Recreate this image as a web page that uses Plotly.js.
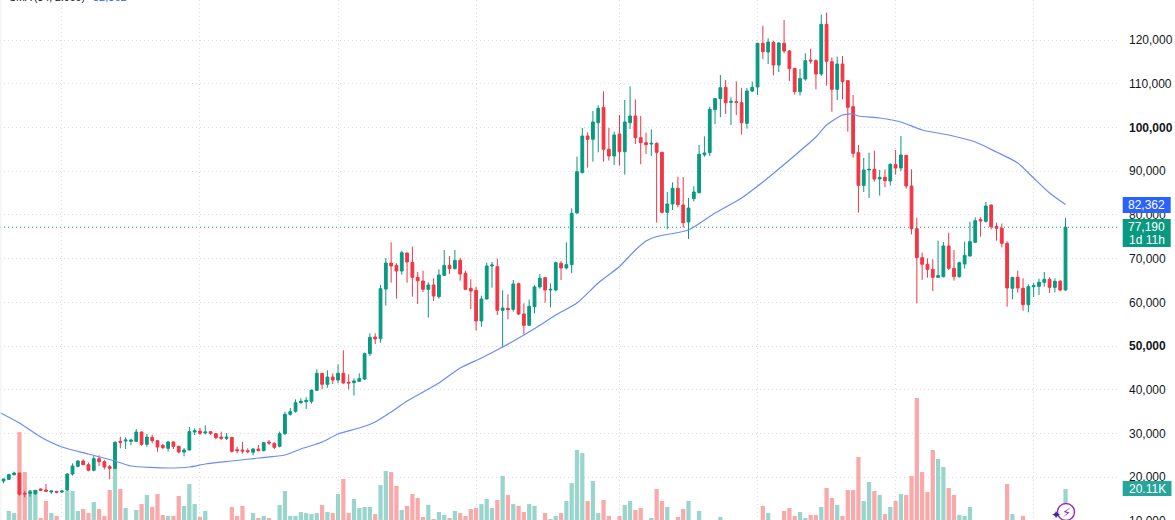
<!DOCTYPE html>
<html><head><meta charset="utf-8">
<script src="https://cdn.plot.ly/plotly-3.0.1.min.js"></script>
<style>html,body{margin:0;padding:0;background:#fff;overflow:hidden;width:1175px;height:520px}
#c{position:absolute;left:0;top:-20px;width:1175px;height:560px}</style></head><body><div id="c"></div>
<script>
const opens=[19145,19525,20593,20974,16324,16324,16248,17315,17083,16629,16781,16629,17083,20745,22498,23718,22879,21584,24252,23566,22422,22041,28216,28292,28216,28216,30350,27530,29130,28368,27301,26615,28063,27072,25776,26234,30350,30579,30121,30426,29969,29207,28902,29130,26310,26234,26081,25700,26462,26081,28063,27758,27072,29969,34390,35077,
37058,37288,37365,39880,43768,41252,42929,42243,43768,41710,41634,41938,42472,48266,52077,51696,63056,69000,68467,67171,71287,69153,65722,64884,62978,63969,61301,66180,68467,67704,69610,66637,63207,62749,55736,60767,68314,68162,58176,58633,58404,64274,57339,54745,59014,63512,65646,62825,62825,68924,67857,
68619,80436,89660,98046,97283,101095,104601,95000,93472,98503,94463,101095,102619,97665,96521,96216,96368,94310,80589,82495,86077,82266,78378,83714,85087,93777,94234,104068,106583,109175,105745,105897,105669,100942,108337,
109252,119238,117256,119467,114283,119238,117485,113521,108185,111081,115427,115274,112225,123583,115046,108718,114512,110700,104754,94233,86763,90269,90422,88211,88590,87754,91489,90727,93623,86610,76853,70221,68697,67553,65724,65876,72889,67782,65876,68773,70602,73727,78911,78530,82265,77386,76929,73499,63208,65724,63208,59472,63589,63666,64580,65265,63436,64808,62827];
const highs=[19678,20821,21279,21000,16857,17083,17083,17467,18458,17083,16857,17083,20898,23184,23870,24099,23337,25014,25014,23947,22803,28216,29283,29130,28826,31036,30426,29893,29740,28521,27606,28292,28216,27225,26691,31494,31189,31341,31875,30500,30121,30426,30121,29207,26996,28063,26615,26691,27377,28063,28521,27987,30426,35000,35839,37821,
38051,38280,40108,44683,43850,44452,43768,45827,49028,43539,42625,43768,48494,52916,52916,63969,70144,73727,68924,71821,71363,72735,66942,67247,64579,65494,67551,71973,70601,71973,70220,67247,65265,63588,61529,69076,69229,69991,62749,61835,65113,64503,59776,60615,63969,66484,65799,64350,69305,69458,73727,
81503,93319,99875,98884,103763,105059,108260,99875,99037,102848,106278,109404,106431,102619,98808,99570,96600,94463,85239,87450,88746,88669,83867,86534,95987,97969,104754,106700,111996,110852,106888,110547,109023,109023,110471,
119391,123278,120382,119848,119467,124574,117714,113600,113370,116951,118018,115579,125794,126251,116036,116189,116342,110800,107422,95987,93013,94233,94691,90269,90422,91794,94843,98045,93700,90422,79368,71365,70068,69840,74110,73802,75938,71974,69306,73880,78454,79445,79445,82952,82340,78225,78016,73957,65800,67248,65495,64123,64504,65418,66942,65724,65495,65114,79292];
const lows=[18611,19373,20364,15790,15409,15561,15943,16857,16629,16172,16324,16400,16857,20364,22270,22727,21355,21355,22575,21816,19525,21816,26615,26462,27301,28063,27225,26996,27758,25853,26386,25929,26462,25471,24785,26157,29664,29664,29817,29664,28673,28521,28521,25624,25471,25395,25471,25014,25929,25929,27377,26462,26843,29664,34085,34771,
36831,35611,36831,39800,40108,40490,41328,41481,41405,40108,38661,41786,42243,47732,50476,50781,59243,64503,60844,66332,64503,61301,59624,62368,56498,60310,60844,66100,66484,67551,64960,62900,58480,53525,54440,60691,63359,57108,49638,56118,57871,57108,52687,54593,57489,63131,59929,58862,62521,65113,67551,
66650,80300,89508,90804,92176,94310,92176,92405,91414,91261,89203,99646,96216,91566,93929,93472,78226,80284,76702,81123,81732,77082,74490,83104,84934,93319,93472,100790,102314,103077,100561,102848,98350,99723,108108,
107422,115655,114512,111920,112682,116951,110624,107499,107270,110700,114588,108718,111768,109557,103611,106279,106431,99037,93090,80512,85238,83866,87601,84404,86306,86687,89202,90041,85997,75557,59777,65114,65647,62597,65600,65724,67400,64961,65647,67705,70449,73650,75023,78225,76700,74110,72584,59015,60692,62216,58100,57719,61226,61683,63589,62140,62292,62521,62674];
const closes=[19602,20593,20974,16095,16172,16629,17009,17009,16781,16857,16553,16857,20745,22575,23718,22879,21584,24252,23566,22346,22041,27987,27987,28521,28521,30350,27530,29207,28368,26920,26767,28063,27072,25776,26234,30426,30655,30045,30350,30045,29054,28902,29207,25929,26081,26005,25853,26462,26081,27911,27834,26843,29969,34390,35000,37058,
37365,37593,39880,43768,41252,42929,42243,43768,41557,41557,42014,42548,48266,52001,51620,63131,69000,68314,67171,71363,69229,65722,64960,62978,63969,61453,66256,68467,67704,69610,66484,62978,62597,55736,60767,68314,68543,58176,58709,58328,64198,57339,54745,59090,63512,65494,62825,62978,69076,67857,68619,
80360,89889,98046,97283,101247,104373,95000,93472,98274,94463,101247,102619,97665,96521,96064,96368,94310,80589,82495,86077,82342,78226,81580,85239,93853,94158,104144,106583,109099,105669,105973,105745,101095,108337,109175,
119238,117332,119543,114283,119315,117485,113445,108185,111158,115274,115198,112225,123583,115122,108718,114512,110472,104601,94082,86763,90269,90422,88211,88590,87832,91565,90727,93700,86610,76853,70221,68697,67553,65724,66104,72889,67782,65876,69077,70754,73880,78682,78606,82037,77310,76929,73499,63284,65724,63284,59472,63589,63818,64580,65265,63436,64808,62827,77190];
const volumes=[4,9.3,8.3,48,28.4,19.6,19.6,5.9,14.2,8.3,6.9,4,19.1,19.1,9.3,10.3,8.3,13.7,10.3,6.9,19.6,30.4,20.1,10.8,4,9.8,12.7,17.2,11.3,17.6,7.4,6.9,6.9,16.7,11.8,22.5,12.7,6.4,9.3,4,3,3.5,4,11.3,6.9,11.8,4,8.3,5.9,6.9,5.9,4,12.3,19.1,6.9,6.9,
8.8,8.3,7.8,8.3,12.3,8.8,8.3,17.6,25,8.3,15.2,10.8,11.3,11.3,7.8,22,28.9,28.4,21.6,9.8,11.8,17.6,15.7,6.4,12.3,5.4,8.8,7.4,5.9,9.3,8.3,6.9,10.3,10.8,12.7,15.2,10.8,14.7,26.5,17.2,12.7,11.8,8.8,12.7,11.8,4,8.3,5.4,6.9,8.3,14.2,
23,39.2,37.7,14.2,24,8.3,14.7,6.9,4,6.9,12.3,14.2,9.8,10.8,4,5.9,20.1,14.2,11.3,4,6.4,10.3,14.2,4,9.3,
3.5,4,3,6.4,3,3.5,4,3,4,3,3.5,11.8,8.3,4,3.5,9.3,10.8,6.9,8.8,5.9,7.4,7.4,11.3,20.6,15.7,12.3,6.9,19.6,19.6,35.8,14.2,23.5,19.1,17.2,7.8,11.3,14.2,17.6,17.2,26.5,64.7,28.4,18.6,39.2,34.8,30.9,20.6,17.2,7.4,6.9,11.3,4,3.5,4,3,4,3.5,22.5,7.8,3.5,6.9,3.5,4,3,3.5,4,3,4,20.11];
const maIndex=[-1,3,7,11,16,21,24,31,35,38,43,48,53,56,60,63,67,70,73,76,82,86,90,94,98,102,104,108,112,116,119,121,123,129,134,139,143,148,153,155,158,160,161,165,169,173,178,183,187,191,194,197,200];
const maValues=[35000,32400,29200,26920,25320,23720,22570,22120,22340,23030,23720,24400,25090,26460,28060,29890,31260,32640,34930,37440,41560,44990,47270,49790,52530,55510,57108,59850,64425,68200,71970,74030,75060,76550,80435,83870,87525,92560,97815,100560,102850,103080,102620,102160,101250,99420,98270,96670,94390,91870,88440,85010,82362];
const priceTicks=[10000,20000,30000,40000,50000,60000,70000,80000,90000,100000,110000,120000];
const priceTickText=['10,000','20,000','30,000','40,000','<b>50,000</b>','60,000','70,000','80,000','90,000','<b>100,000</b>','110,000','120,000'];
const timeTicks=[11,37,63,89,116,142,168,194];
const legendLabel='SMA (34, 2.000)', legendValue='82,362';
const maLast='82,362', lastPrice='77,190', countdown='1d 11h', lastVolume='20.11K';

const GREEN='#089981',RED='#f23645',FONT='"Liberation Sans",sans-serif',GRID='#dcdcdc',DOTS='1px,3px';
const idx=closes.map((_,i)=>i);
const traces=[
 {type:'bar',x:idx,y:volumes,yaxis:'y',xaxis:'x',
  marker:{color:closes.map((c,i)=>c>=opens[i]?'#99d5cc':'#f9a9a9'),line:{width:0}},hoverinfo:'skip'},
 {type:'candlestick',x:idx,open:opens,high:highs,low:lows,close:closes,yaxis:'y2',xaxis:'x',whiskerwidth:0,
  increasing:{line:{color:GREEN,width:1},fillcolor:GREEN},decreasing:{line:{color:RED,width:1},fillcolor:RED},hoverinfo:'skip'},
 {type:'scatter',mode:'lines',x:maIndex,y:maValues,yaxis:'y2',xaxis:'x',line:{color:'#6a8cf7',width:1.2,shape:'spline',smoothing:0.6},hoverinfo:'skip'}
];
const W=1175,H=560,T=20;
const tag=(x,yPx,text)=>({xref:'paper',yref:'paper',x:x/1120,y:1-yPx/540,xanchor:'center',yanchor:'middle',text:text,showarrow:false,font:{family:FONT,size:12,color:'#fff'},borderpad:0});
const layout={width:W,height:H,margin:{l:0,r:55,t:T,b:0,autoexpand:false},paper_bgcolor:'#fff',plot_bgcolor:'#fff',showlegend:false,
 bargap:0.2,boxgap:0.25,
 xaxis:{range:[-0.66,210.26],rangeslider:{visible:false},showticklabels:false,ticks:'',tickmode:'array',tickvals:timeTicks,showgrid:true,gridcolor:GRID,griddash:DOTS,gridwidth:1,zeroline:false,showline:false},
 yaxis:{range:[-4.9,259.7],visible:false,fixedrange:true},
 yaxis2:{overlaying:'y',side:'right',anchor:'x',range:[5650,129148],tickmode:'array',tickvals:priceTicks,ticktext:priceTickText,showgrid:true,gridcolor:GRID,griddash:DOTS,gridwidth:1,zeroline:false,showline:false,ticks:'',ticklabelstandoff:8,tickfont:{family:FONT,size:12,color:'#131722'}},
 shapes:[
  {type:'line',xref:'paper',yref:'y2',x0:0,x1:1,y0:77190,y1:77190,line:{color:GREEN,width:1,dash:DOTS},layer:'above'},
  {type:'rect',xref:'paper',yref:'paper',x0:1122.7/1120,x1:1170.7/1120,y0:1-213/540,y1:1-197/540,fillcolor:'#2962ff',line:{width:0}},
  {type:'rect',xref:'paper',yref:'paper',x0:1122.7/1120,x1:1170.7/1120,y0:1-247/540,y1:1-219/540,fillcolor:GREEN,line:{width:0}},
  {type:'rect',xref:'paper',yref:'paper',x0:1122.7/1120,x1:1171.5/1120,y0:1-496/540,y1:1-481/540,fillcolor:'#26a69a',line:{width:0}},
  {type:'circle',xref:'paper',yref:'paper',x0:1057.5/1120,x1:1074.5/1120,y0:1-520.5/540,y1:1-503.5/540,fillcolor:'#fff',line:{color:'#9c27b0',width:1.4},layer:'above'},
  {type:'line',xref:'paper',yref:'paper',x0:0.0008,x1:0.0008,y0:0,y1:1,line:{color:'#efefef',width:1}}
 ],
 annotations:[
  {xref:'paper',yref:'paper',x:8/1120,y:1,yshift:-4,xanchor:'left',yanchor:'bottom',text:legendLabel,showarrow:false,font:{family:FONT,size:10.5,color:'#131722'},borderpad:0},
  {xref:'paper',yref:'paper',x:92/1120,y:1,yshift:-4,xanchor:'left',yanchor:'bottom',text:legendValue,showarrow:false,font:{family:FONT,size:11,color:'#2962ff'},borderpad:0},
  tag(1146.7,205,maLast),tag(1146.7,226.5,lastPrice),tag(1146.7,239.5,countdown),tag(1147,488.5,lastVolume),
  {xref:'paper',yref:'paper',x:1066.5/1120,y:1-512/540,xanchor:'center',yanchor:'middle',text:'⚡',showarrow:false,font:{family:'"DejaVu Sans"',size:13,color:'#9c27b0'},borderpad:0},
  {xref:'paper',yref:'paper',x:1056/1120,y:1-515/540,xanchor:'center',yanchor:'middle',text:'✦',showarrow:false,font:{family:'"DejaVu Sans"',size:12,color:'#3b2a9e'},borderpad:0}
 ]
};
Plotly.newPlot('c',traces,layout,{staticPlot:true,displayModeBar:false});
</script></body></html>
